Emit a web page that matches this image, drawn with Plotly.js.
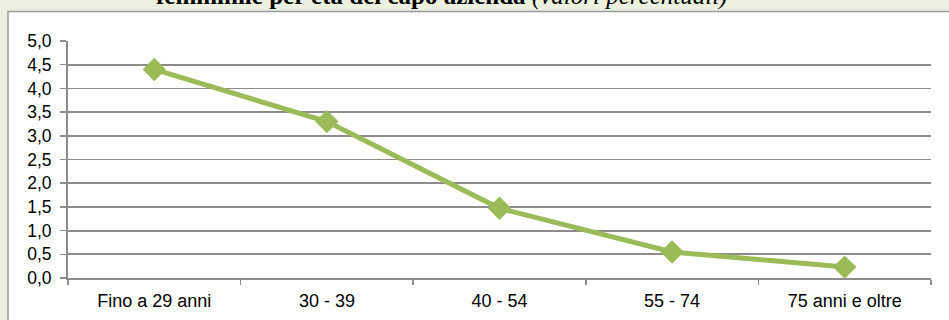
<!DOCTYPE html>
<html>
<head>
<meta charset="utf-8">
<script src="https://cdn.plot.ly/plotly-3.0.1.min.js"></script>
<style>html,body{margin:0;padding:0;background:#EBF1DE;}#chart{width:949px;height:320px;}</style>
</head>
<body>
<div id="chart"></div>
<script>
const categories = ["Fino a 29 anni", "30 - 39", "40 - 54", "55 - 74", "75 anni e oltre"];
const values = [4.4, 3.3, 1.47, 0.55, 0.23];
const yTicks = [0, 0.5, 1, 1.5, 2, 2.5, 3, 3.5, 4, 4.5, 5];
const titleBold = "femminile per età del capo azienda";
const titleItalic = "(valori percentuali)";

const W = 949, H = 320;
const L = 68, R = 18, T = 40.5, B = 42;
const pw = W - L - R, ph = H - T - B;
const px = x => (x - L) / pw;
const py = y => (H - B - y) / ph;

const trace = {
  x: categories,
  y: values,
  type: 'scatter',
  mode: 'lines+markers',
  line: {color: '#9BBB59', width: 5},
  marker: {symbol: 'diamond', size: 18, color: '#9BBB59'},
  hoverinfo: 'skip'
};

const layout = {
  width: W, height: H,
  margin: {l: L, r: R, t: T, b: B, pad: 0},
  paper_bgcolor: '#EBF1DE',
  plot_bgcolor: 'rgba(0,0,0,0)',
  separators: ',.',
  showlegend: false,
  font: {family: '"Liberation Sans", Arial, sans-serif', size: 17, color: '#000'},
  xaxis: {
    type: 'category',
    range: [-0.5, 4.5],
    tickson: 'boundaries',
    ticks: 'outside', ticklen: 5, tickwidth: 1.5, tickcolor: '#8c8c8c',
    showline: true, linecolor: '#8c8c8c', linewidth: 2,
    showgrid: false, zeroline: false,
    ticklabelstandoff: 5,
    tickfont: {size: 18}, fixedrange: true
  },
  yaxis: {
    range: [0, 5],
    tickvals: yTicks,
    tickformat: '.1f',
    ticks: 'outside', ticklen: 6, tickwidth: 1.5, tickcolor: '#8c8c8c',
    showline: true, linecolor: '#8c8c8c', linewidth: 2,
    showgrid: true, gridcolor: '#8c8c8c', gridwidth: 1.8,
    zeroline: false, ticklabelstandoff: 5,
    tickfont: {size: 17.5}, fixedrange: true
  },
  shapes: [{
    type: 'rect', xref: 'paper', yref: 'paper', layer: 'below',
    x0: px(8), x1: px(970), y0: py(340), y1: py(11),
    fillcolor: '#ffffff', line: {color: '#9a9a9a', width: 1.5}
  }],
  annotations: [{
    xref: 'paper', yref: 'paper', x: px(441), y: py(-4.5),
    xanchor: 'center', yanchor: 'middle', showarrow: false,
    text: '<b>' + titleBold + '</b> <i>' + titleItalic + '</i>',
    font: {family: '"Liberation Serif", "Times New Roman", serif', size: 25, color: '#000'}
  }]
};

Plotly.newPlot('chart', [trace], layout, {displayModeBar: false, staticPlot: true});
</script>
</body>
</html>
